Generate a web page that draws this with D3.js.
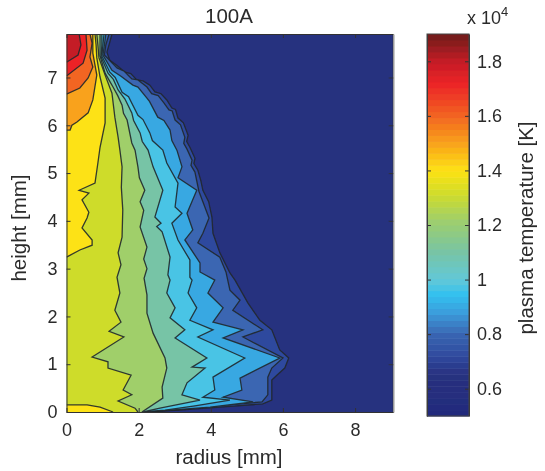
<!DOCTYPE html>
<html>
<head>
<meta charset="utf-8">
<script src="https://cdn.jsdelivr.net/npm/d3@7"></script>
<style>
  html, body { margin: 0; padding: 0; background: #fff; }
  text { font-family: "Liberation Sans", Arial, sans-serif; fill: #2b2b2b; }
  .axis text { font-size: 18px; font-family: "Liberation Sans", Arial, sans-serif; fill: #2b2b2b; }
  .axis path, .axis line { stroke: #333; }
  .label { font-size: 20.5px; }
  .mult { font-size: 18px; }
</style>
</head>
<body>
<div id="chart"></div>
<script>
// contour lines, [radius mm, height mm], top to bottom
const line0500 = [[1.26,7.91],[1.2,7.74],[1.12,7.53],[1.2,7.36],[1.4,7.25],[1.62,7.11],[1.78,7.08],[1.95,6.95],[2.12,6.93],[2.31,6.84],[2.45,6.7],[2.62,6.66],[2.78,6.53],[2.92,6.36],[3.02,6.33],[3.09,6.15],[3.24,6.05],[3.37,5.79],[3.33,5.66],[3.42,5.54],[3.56,5.31],[3.53,5.2],[3.64,5.06],[3.72,4.85],[3.78,4.64],[3.94,4.4],[4.03,4.08],[4.06,3.74],[4.25,3.33],[4.53,2.91],[4.67,2.76],[5.03,2.28],[5.36,1.92],[5.69,1.72],[5.91,1.3],[6.16,1.13],[6.05,0.92],[5.83,0.77],[5.69,0.67],[5.69,0.25],[5.44,0.17],[4.25,0.1],[3.14,0.04],[2.09,0]];
const line0700 = [[1.18,7.91],[1.09,7.68],[1.05,7.47],[1.4,7.2],[1.6,7.13],[1.81,6.97],[1.98,6.95],[2.23,6.8],[2.36,6.66],[2.54,6.62],[2.7,6.47],[2.84,6.32],[2.93,6.3],[3.01,6.11],[3.16,6.01],[3.28,5.75],[3.25,5.62],[3.34,5.5],[3.48,5.27],[3.45,5.16],[3.56,5.02],[3.67,4.62],[3.95,4.06],[3.78,3.74],[3.64,3.54],[4.25,3.24],[4.42,2.93],[4.53,2.55],[4.81,2.34],[4.61,2.13],[5.44,1.72],[4.89,1.57],[6,1.13],[5.69,0.92],[5.58,0.73],[5.58,0.36],[5.42,0.21],[4.11,0.13],[3.01,0.04],[2.06,0]];
const line0850 = [[1.09,7.91],[1.05,7.68],[1.01,7.47],[1.26,7.15],[1.5,7.03],[1.84,6.84],[1.98,6.8],[2.23,6.57],[2.3,6.5],[2.53,6.17],[2.7,6.1],[2.87,5.9],[2.92,5.68],[3.06,5.48],[3.2,5.13],[3.09,4.9],[3.61,4.64],[3.34,4.16],[3.5,3.81],[3.28,3.6],[3.7,3.12],[3.7,2.93],[4.11,2.76],[3.92,2.49],[4.34,2.18],[4.06,1.88],[4.89,1.72],[4.34,1.55],[5.91,1.13],[4.81,0.71],[4.86,0.46],[4.34,0.31],[5.17,0.21],[3.98,0.1],[2.87,0.04],[2.06,0]];
const line0950 = [[1.04,7.91],[1.01,7.68],[0.98,7.45],[1.2,7.11],[1.35,7],[1.54,6.69],[1.72,6.6],[1.98,6.21],[2.12,6.12],[2.31,5.84],[2.38,5.68],[2.67,5.48],[2.78,5.21],[3.09,4.79],[3.01,4.29],[3.2,4.16],[2.92,3.95],[3.09,3.6],[3.42,3.18],[3.42,2.82],[3.48,2.76],[3.37,2.49],[3.61,2.18],[3.42,1.92],[4.06,1.72],[3.64,1.57],[4.94,1.13],[4.06,0.73],[4.11,0.46],[3.78,0.31],[4.53,0.25],[3.56,0.13],[2.73,0.04],[2.06,0]];
const line1050 = [[0.98,7.91],[0.98,7.68],[0.96,7.43],[1.15,7.09],[1.3,6.96],[1.43,6.74],[1.62,6.55],[1.81,6.26],[1.86,6.1],[2.04,5.84],[2.1,5.66],[2.26,5.48],[2.4,5.13],[2.67,4.64],[2.45,4.08],[2.62,3.95],[2.5,3.88],[2.65,3.77],[2.87,3.24],[2.81,2.87],[2.87,2.76],[2.78,2.49],[3.01,2.18],[2.87,1.97],[3.28,1.72],[3.01,1.55],[3.89,1.13],[3.48,0.94],[3.84,0.92],[3.34,0.61],[3.2,0.36],[3.7,0.25],[2.59,0.08],[2.12,0]];
const line1150 = [[0.93,7.91],[0.93,7.68],[0.93,7.45],[1.07,7.09],[1.2,6.92],[1.29,6.8],[1.42,6.62],[1.54,6.42],[1.58,6.25],[1.68,6.11],[1.81,5.63],[1.9,5.48],[1.98,5.13],[2.02,4.9],[2.17,4.64],[2.04,4.4],[2.14,4.22],[2.04,3.87],[2.23,3.45],[2.14,3.2],[2.23,3],[2.15,2.8],[2.23,2.45],[2.23,2.07],[2.4,1.65],[2.73,1.13],[2.78,0.92],[2.65,0.52],[2.67,0.29],[2.09,0]];
const line1250 = [[0.84,7.91],[0.87,7.68],[0.9,7.41],[1.07,7.05],[1.26,6.67],[1.34,6.17],[1.43,5.75],[1.48,5.48],[1.54,5.13],[1.52,4.7],[1.56,4.23],[1.54,3.66],[1.43,3.33],[1.51,3.08],[1.4,2.82],[1.48,2.49],[1.34,2.13],[1.51,1.88],[1.18,1.69],[1.59,1.57],[0.71,1.15],[1.15,1.05],[1.15,0.92],[1.79,0.77],[1.57,0.46],[1.81,0.36],[1.43,0.23],[1.9,0.08],[1.98,0]];
const line1350 = [[0.79,7.91],[0.82,7.68],[0.84,7.41],[0.93,7.01],[1.07,6.57],[1.07,6.05],[0.93,5.54],[0.87,5.21],[0.79,4.79],[0.35,4.64],[0.62,4.58],[0.43,4.44],[0.62,4.18],[0.57,4.06],[0.43,3.85],[0.71,3.6],[0.71,3.49],[0.37,3.39],[0,3.24]];
const line1350low = [[0,0.15],[0.57,0.15],[0.93,0.1],[1.29,0]];
const line1450 = [[0.73,7.91],[0.73,7.51],[0.84,7.05],[0.73,6.53],[0.6,6.26],[0.29,6.07],[0.15,6],[0.1,5.9],[0,5.9]];
const line1550 = [[0.65,7.91],[0.71,7.72],[0.65,7.43],[0.73,7.22],[0.6,6.99],[0.37,6.78],[0,6.65]];
const line1650 = [[0.54,7.91],[0.57,7.57],[0.46,7.3],[0,7.03]];
const line1750 = [[0.35,7.91],[0.4,7.68],[0.32,7.47],[0,7.32]];

// outermost first, with the temperature (x 10^4 K) that fills the inside of each line
const contourLines = [line0500, line0700, line0850, line0950, line1050, line1150, line1250, line1350, line1350low, line1450, line1550, line1650, line1750];
const fillTemps = [0.72, 0.8, 0.9, 0.97, 1.1, 1.22, 1.31, 1.4, 1.4, 1.5, 1.6, 1.72, 1.8];
const backgroundTemp = 0.65;

// colormap stops
const cmapTemps = [0.5, 0.65, 0.72, 0.8, 0.88, 0.945, 1.0, 1.1, 1.22, 1.31, 1.4, 1.5, 1.6, 1.72, 1.8, 1.9];
const cmapColors = ['#232b7c', '#27307f', '#2f4a9e', '#3a66b2', '#3a9ddc', '#33c1ef', '#62c8d8', '#77c4a6', '#a0cf6a', '#cedc2c', '#fde212', '#f9a21a', '#f26522', '#ec2227', '#c41e26', '#6e1a1c'];

const xTicks = [0, 2, 4, 6, 8];
const yTicks = [0, 1, 2, 3, 4, 5, 6, 7];
const barTicks = [0.6, 0.8, 1, 1.2, 1.4, 1.6, 1.8];

const margin = { top: 34, left: 66.5, right: 152, bottom: 59 };
const width = 545 - margin.left - margin.right;
const height = 471 - margin.top - margin.bottom;

const xScale = d3.scaleLinear().domain([0, 9.05]).range([0, width]);
const yScale = d3.scaleLinear().domain([0, 7.91]).range([height, 0]);
const color = d3.scaleLinear().domain(cmapTemps).range(cmapColors);

const svg = d3.select('#chart').append('svg')
    .attr('width', 545)
    .attr('height', 471)
    .style('display', 'block');

const defs = svg.append('defs');
defs.append('clipPath').attr('id', 'plotClip')
  .append('rect').attr('width', width).attr('height', height);
// the reference is a soft, upscaled bitmap
defs.append('filter').attr('id', 'soft')
  .append('feGaussianBlur').attr('stdDeviation', 0.6);
defs.append('filter').attr('id', 'softText')
  .append('feGaussianBlur').attr('stdDeviation', 0.3);

const g = svg.append('g')
    .attr('transform', 'translate(' + margin.left + ',' + margin.top + ')');

// Filled contours
const plot = g.append('g')
    .attr('clip-path', 'url(#plotClip)')
  .append('g')
    .attr('filter', 'url(#soft)');

plot.append('rect')
    .attr('width', width)
    .attr('height', height)
    .attr('fill', color(backgroundTemp));

const line = d3.line().x(d => xScale(d[0])).y(d => yScale(d[1]));

contourLines.forEach((pts, i) => {
  const first = pts[0], last = pts[pts.length - 1];
  const closed = [[0, first[1]]].concat(pts);
  if (last[0] > 0) closed.push([0, last[1]]);
  plot.append('path')
      .attr('d', line(closed) + 'Z')
      .attr('fill', color(fillTemps[i]));
  plot.append('path')
      .attr('d', line(pts))
      .attr('fill', 'none')
      .attr('stroke', '#20282c')
      .attr('stroke-width', 1.3)
      .attr('stroke-opacity', 0.9);
});

// Axes with inward ticks on all four sides
function styleAxis(sel) {
  sel.attr('class', 'axis').attr('filter', 'url(#softText)').attr('font-size', null);
}

g.append('g')
    .attr('transform', 'translate(0,' + height + ')')
    .call(d3.axisBottom(xScale).tickValues(xTicks).tickSizeInner(-4).tickSizeOuter(0).tickPadding(11))
    .call(styleAxis);
g.append('g')
    .call(d3.axisTop(xScale).tickValues(xTicks).tickSizeInner(-4).tickSizeOuter(0).tickFormat(''))
    .call(styleAxis);
g.append('g')
    .call(d3.axisLeft(yScale).tickValues(yTicks).tickSizeInner(-4).tickSizeOuter(0).tickPadding(9))
    .call(styleAxis);
g.append('g')
    .attr('transform', 'translate(' + width + ',0)')
    .call(d3.axisRight(yScale).tickValues(yTicks).tickSizeInner(-4).tickSizeOuter(0).tickFormat(''))
    .call(styleAxis);

// Colour bar
const barLeft = 427 - margin.left, barWidth = 42, barTop = 0, barHeight = 382;
const barScale = d3.scaleLinear().domain([0.5, 1.9]).range([barTop + barHeight, barTop]);
const bands = d3.range(64);
const bar = g.append('g').attr('transform', 'translate(' + barLeft + ',0)');

bar.append('g').attr('filter', 'url(#soft)')
  .selectAll('rect')
  .data(bands)
  .join('rect')
    .attr('width', barWidth)
    .attr('y', d => barScale(0.5 + (d + 1) * 1.4 / 64))
    .attr('height', barHeight / 64 + 0.5)
    .attr('fill', d => color(0.5 + (d + 0.5) * 1.4 / 64));

bar.append('g')
    .call(d3.axisLeft(barScale).tickValues(barTicks).tickSizeInner(-4).tickSizeOuter(0).tickFormat(''))
    .call(styleAxis);
bar.append('g')
    .attr('transform', 'translate(' + barWidth + ',0)')
    .call(d3.axisRight(barScale).tickValues(barTicks).tickSizeInner(-4).tickSizeOuter(0).tickPadding(8).tickFormat(d => d))
    .call(styleAxis);
bar.append('rect')
    .attr('width', barWidth)
    .attr('height', barHeight)
    .attr('fill', 'none')
    .attr('stroke', '#444');

// Labels
const labels = svg.append('g').attr('filter', 'url(#softText)');

labels.append('text').attr('class', 'label')
    .attr('x', 229).attr('y', 23)
    .attr('text-anchor', 'middle').text('100A');
labels.append('text').attr('class', 'label')
    .attr('x', 229).attr('y', 464)
    .attr('text-anchor', 'middle').text('radius [mm]');
labels.append('text').attr('class', 'label')
    .attr('transform', 'translate(26,228) rotate(-90)')
    .attr('text-anchor', 'middle').text('height [mm]');
labels.append('text').attr('class', 'label')
    .attr('transform', 'translate(533,228) rotate(-90)')
    .attr('text-anchor', 'middle').text('plasma temperature [K]');

const mult = labels.append('text').attr('class', 'mult')
    .attr('x', 467).attr('y', 24);
mult.append('tspan').text('x 10');
mult.append('tspan').attr('dy', -8).style('font-size', '13px').text('4');
</script>
</body>
</html>
